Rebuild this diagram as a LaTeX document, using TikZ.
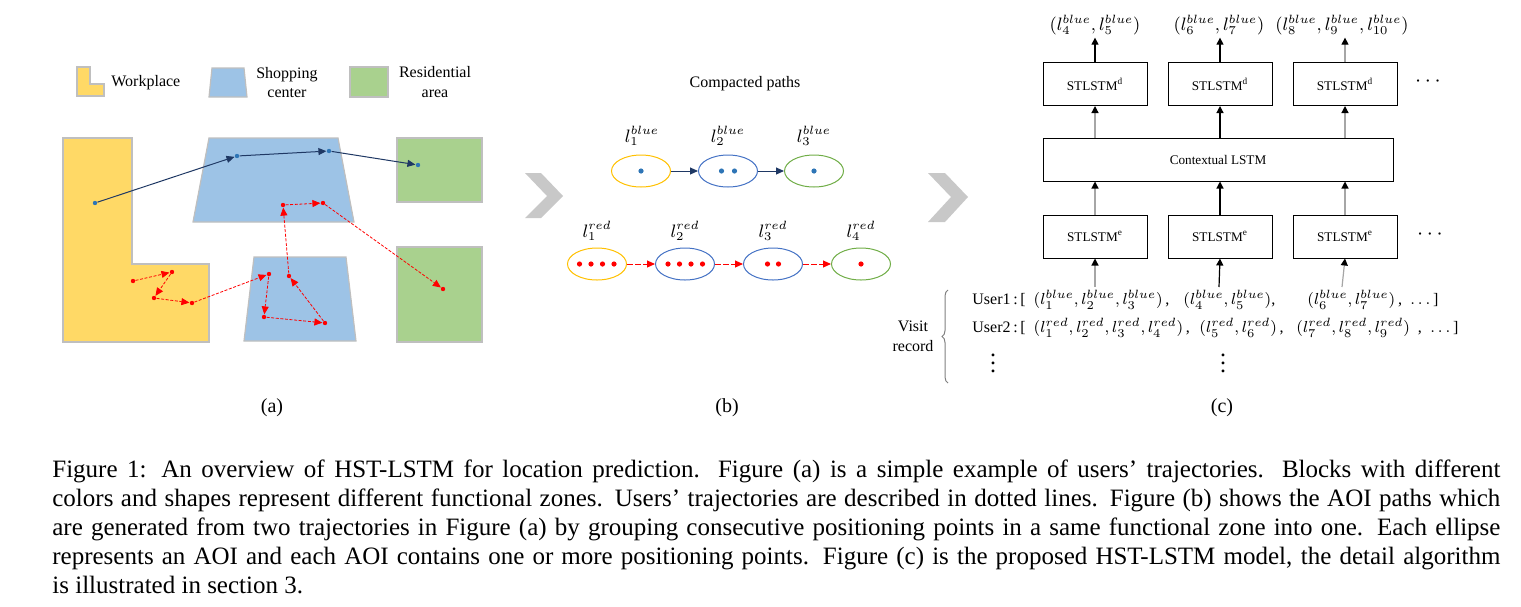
\documentclass[tikz,border=0pt]{standalone}
\usepackage{fontspec}
\setmainfont{Liberation Serif}
\usetikzlibrary{arrows.meta,shapes.geometric,decorations.pathreplacing,positioning}

\definecolor{workyellow}{HTML}{FFD966}
\definecolor{shopblue}{HTML}{9DC3E6}
\definecolor{resgreen}{HTML}{A9D18E}
\definecolor{zoneline}{HTML}{BFBFBF}
\definecolor{pathnavy}{HTML}{1F3864}
\definecolor{dotblue}{HTML}{2E75B6}
\definecolor{aoiorange}{HTML}{FFC000}
\definecolor{aoiblue}{HTML}{4472C4}
\definecolor{aoigreen}{HTML}{70AD47}
\definecolor{chevgrey}{HTML}{C8C8C8}
\definecolor{linkgrey}{HTML}{A6A6A6}

\tikzset{
  zone/.style={draw=zoneline, line width=0.6pt},
  bdot/.style={circle, fill=dotblue, inner sep=0pt, minimum size=2.2pt},
  rdot/.style={circle, fill=red, inner sep=0pt, minimum size=2.2pt},
  bpath/.style={draw=pathnavy, line width=0.5pt, -{Triangle[length=4pt,width=3.5pt]}},
  rpath/.style={draw=red, line width=0.4pt, dash pattern=on 1.5pt off 0.8pt, -{Triangle[length=4pt,width=3.5pt]}},
  legendtext/.style={font=\fontsize{8}{9.8}\selectfont, align=center, inner sep=0pt},
  aoi/.style={ellipse, draw, line width=0.5pt, minimum width=29.5pt, minimum height=16pt, inner sep=0pt},
  aoilabel/.style={font=\fontsize{9}{10}\selectfont, inner sep=0pt},
  blink/.style={draw=pathnavy, line width=0.5pt, -{Triangle[length=4pt,width=3.5pt]}},
  rlink/.style={draw=red, line width=0.5pt, dash pattern=on 3pt off 1pt, -{Triangle[length=4pt,width=3.5pt]}},
  cbox/.style={draw, line width=0.5pt, minimum width=52pt, minimum height=21.5pt, inner sep=0pt, font=\fontsize{6.6}{8}\selectfont},
  carrow/.style={line width=0.6pt, -{Triangle[length=3.5pt,width=3.5pt,color=black]}},
  outlabel/.style={font=\fontsize{9}{10}\selectfont, inner sep=1pt},
  record/.style={font=\fontsize{8}{10}\selectfont, inner sep=0pt, anchor=west},
  moredots/.style={font=\fontsize{11}{12}\selectfont, inner sep=0pt}
}

\begin{document}
\begin{tikzpicture}[x=0.5pt, y=-0.5pt]
  \useasboundingbox (0,0) rectangle (1521,606);

  % (a) legend
  \fill[workyellow, zone] (77,67) -- (90,67) -- (90,84) -- (104,84) -- (104,96) -- (77,96) -- cycle;
  \node[legendtext, anchor=west] (lwork) at (111,83) {Workplace};
  \fill[shopblue, zone] (212,68) -- (244,68) -- (247,97) -- (209,97) -- cycle;
  \node[legendtext] (lshop) at (287,82.5) {Shopping\\center};
  \fill[resgreen, zone] (350,67) rectangle (388,97);
  \node[legendtext] (lres) at (435,82) {Residential\\area};

  % (a) functional zones
  \fill[workyellow, zone] (63,138) -- (132,138) -- (132,264) -- (209,264) -- (209,342) -- (63,342) -- cycle;
  \fill[shopblue, zone] (209,138) -- (338,138) -- (354,222) -- (193,222) -- cycle;
  \fill[shopblue, zone] (254,257) -- (346,257) -- (356,341) -- (244,341) -- cycle;
  \fill[resgreen, zone] (397,138) rectangle (482,202);
  \fill[resgreen, zone] (397,247) rectangle (482,342);

  % blue trajectory
  \node[bdot] (b1) at (95,203) {};
  \node[bdot] (b2) at (237,156) {};
  \node[bdot] (b3) at (329,151) {};
  \node[bdot] (b4) at (418,165) {};
  \draw[bpath] (b1) -- (b2);
  \draw[bpath] (b2) -- (b3);
  \draw[bpath] (b3) -- (b4);

  % red trajectory
  \node[rdot] (r1) at (133,281) {};
  \node[rdot] (r2) at (172,272) {};
  \node[rdot] (r3) at (154,298) {};
  \node[rdot] (r4) at (192,303) {};
  \node[rdot] (r5) at (269,274) {};
  \node[rdot] (r6) at (264,317) {};
  \node[rdot] (r7) at (325,323) {};
  \node[rdot] (r8) at (289,276) {};
  \node[rdot] (r9) at (283,205) {};
  \node[rdot] (r10) at (323,203) {};
  \node[rdot] (r11) at (443,289) {};
  \foreach \i [evaluate=\i as \j using int(\i+1)] in {1,...,10}
    \draw[rpath] (r\i) -- (r\j);

  % chevrons
  \fill[chevgrey] (525,173) -- (541,173) -- (563,196) -- (541,218) -- (525,218) -- (547,196) -- cycle;
  \fill[chevgrey] (928,173) -- (945,173) -- (968,197) -- (945,222) -- (928,222) -- (951,197) -- cycle;

  % (b) compacted paths
  \node[legendtext] (ctitle) at (745,84) {Compacted paths};

  \node[aoi, draw=aoiorange] (bl1) at (641,171) {};
  \node[aoi, draw=aoiblue] (bl2) at (728,171) {};
  \node[aoi, draw=aoigreen] (bl3) at (814,171) {};
  \node[aoilabel] (lb1) at (642,136) {$l_1^{blue}$};
  \node[aoilabel] (lb2) at (728,136) {$l_2^{blue}$};
  \node[aoilabel] (lb3) at (814,136) {$l_3^{blue}$};
  \foreach \x in {641,721.5,734.5,814}
    \fill[dotblue] (\x,171) circle (1.3pt);
  \draw[blink] (bl1) -- (bl2);
  \draw[blink] (bl2) -- (bl3);

  \node[aoi, draw=aoiorange] (rd1) at (597,264) {};
  \node[aoi, draw=aoiblue] (rd2) at (685,264) {};
  \node[aoi, draw=aoiblue] (rd3) at (773,264) {};
  \node[aoi, draw=aoigreen] (rd4) at (861,264) {};
  \node[aoilabel] (lr1) at (597,231) {$l_1^{red}$};
  \node[aoilabel] (lr2) at (685,231) {$l_2^{red}$};
  \node[aoilabel] (lr3) at (773,231) {$l_3^{red}$};
  \node[aoilabel] (lr4) at (861,231) {$l_4^{red}$};
  \foreach \x in {579.5,591,602.5,614,668,679.5,691,702.5,767.5,778.5,861}
    \fill[red] (\x,264) circle (1.3pt);
  \draw[rlink] (rd1) -- (rd2);
  \draw[rlink] (rd2) -- (rd3);
  \draw[rlink] (rd3) -- (rd4);

  % (c) HST-LSTM model
  \node[cbox] (d1) at (1095,84) {STLSTM\textsuperscript{d}};
  \node[cbox, right=10pt of d1] (d2) {STLSTM\textsuperscript{d}};
  \node[cbox, right=10pt of d2] (d3) {STLSTM\textsuperscript{d}};
  \node[cbox, minimum width=175pt] (ctx) at (1218,159.5) {Contextual LSTM};
  \node[cbox] (e1) at (1095,236.5) {STLSTM\textsuperscript{e}};
  \node[cbox, right=10pt of e1] (e2) {STLSTM\textsuperscript{e}};
  \node[cbox, right=10pt of e2] (e3) {STLSTM\textsuperscript{e}};
  \node[moredots] (dmore) at (1428,82) {$\cdots$};
  \node[moredots] (emore) at (1430,235) {$\cdots$};

  \node[outlabel] (out1) at (1095,25) {$(l_4^{blue}, l_5^{blue})$};
  \node[outlabel] (out2) at (1219,25) {$(l_6^{blue}, l_7^{blue})$};
  \node[outlabel] (out3) at (1342,25) {$(l_8^{blue}, l_9^{blue}, l_{10}^{blue})$};
  \coordinate (in1) at (1095,287);
  \coordinate (in2) at (1219,287);
  \coordinate (in3) at (1342,287);

  \foreach \i/\ct/\cm/\cb in {1/black/linkgrey/linkgrey, 2/black/black/black, 3/linkgrey/linkgrey/linkgrey} {
    \draw[carrow, draw=\ct] (d\i.north) -- (d\i.north |- out\i.south);
    \draw[carrow, draw=\cm] (d\i.south |- ctx.north) -- (d\i.south);
    \draw[carrow, draw=\cb] (e\i.north) -- (e\i.north |- ctx.south);
    \draw[carrow, draw=\cb] (in\i) -- (e\i.south);
  }

  % visit record
  \node[legendtext] (visit) at (913,336) {Visit\\record};
  \draw[draw=gray, line width=0.5pt, decorate, decoration={brace, amplitude=3pt}] (948,383) -- (948,290);
  \node[record] (u1a) at (972,300) {User1\,:\,[\ \ $(l_1^{blue}, l_2^{blue}, l_3^{blue})$\,,};
  \node[record] (u1b) at (1183,300) {$(l_4^{blue}, l_5^{blue})$,};
  \node[record] (u1c) at (1307,300) {$(l_6^{blue}, l_7^{blue})$\,,};
  \node[record] (u1d) at (1410,300) {$.\,.\,.\,$]};
  \node[record] (u2a) at (972,328) {User2\,:\,[\ \ $(l_1^{red}, l_2^{red}, l_3^{red}, l_4^{red})$\,,};
  \node[record] (u2b) at (1199,328) {$(l_5^{red}, l_6^{red})$\,,};
  \node[record] (u2c) at (1296,328) {$(l_7^{red}, l_8^{red}, l_9^{red})$\ \ ,};
  \node[record] (u2d) at (1430,328) {$.\,.\,.\,$]};
  \node[legendtext] (vd1) at (993,357) {\fontsize{12}{12}\selectfont$\vdots$};
  \node[legendtext] (vd2) at (1223,357) {\fontsize{12}{12}\selectfont$\vdots$};

  % sub-figure labels
  \node[font=\fontsize{10}{12}\selectfont] (suba) at (272,408) {(a)};
  \node[font=\fontsize{10}{12}\selectfont] (subb) at (727,408) {(b)};
  \node[font=\fontsize{10}{12}\selectfont] (subc) at (1222,408) {(c)};

  % caption
  \node[anchor=north west, inner sep=0pt, text width=724pt, align=justify,
        font=\fontsize{12.5}{14.5}\selectfont] (caption) at (52,459)
    {Figure 1: An overview of HST-LSTM for location prediction. Figure (a) is a simple example of users' trajectories. Blocks with different\linebreak
     colors and shapes represent different functional zones. Users' trajectories are described in dotted lines. Figure (b) shows the AOI paths which\linebreak
     are generated from two trajectories in Figure (a) by grouping consecutive positioning points in a same functional zone into one. Each ellipse\linebreak
     represents an AOI and each AOI contains one or more positioning points. Figure (c) is the proposed HST-LSTM model, the detail algorithm\linebreak
     is illustrated in section 3.};
\end{tikzpicture}
\end{document}
